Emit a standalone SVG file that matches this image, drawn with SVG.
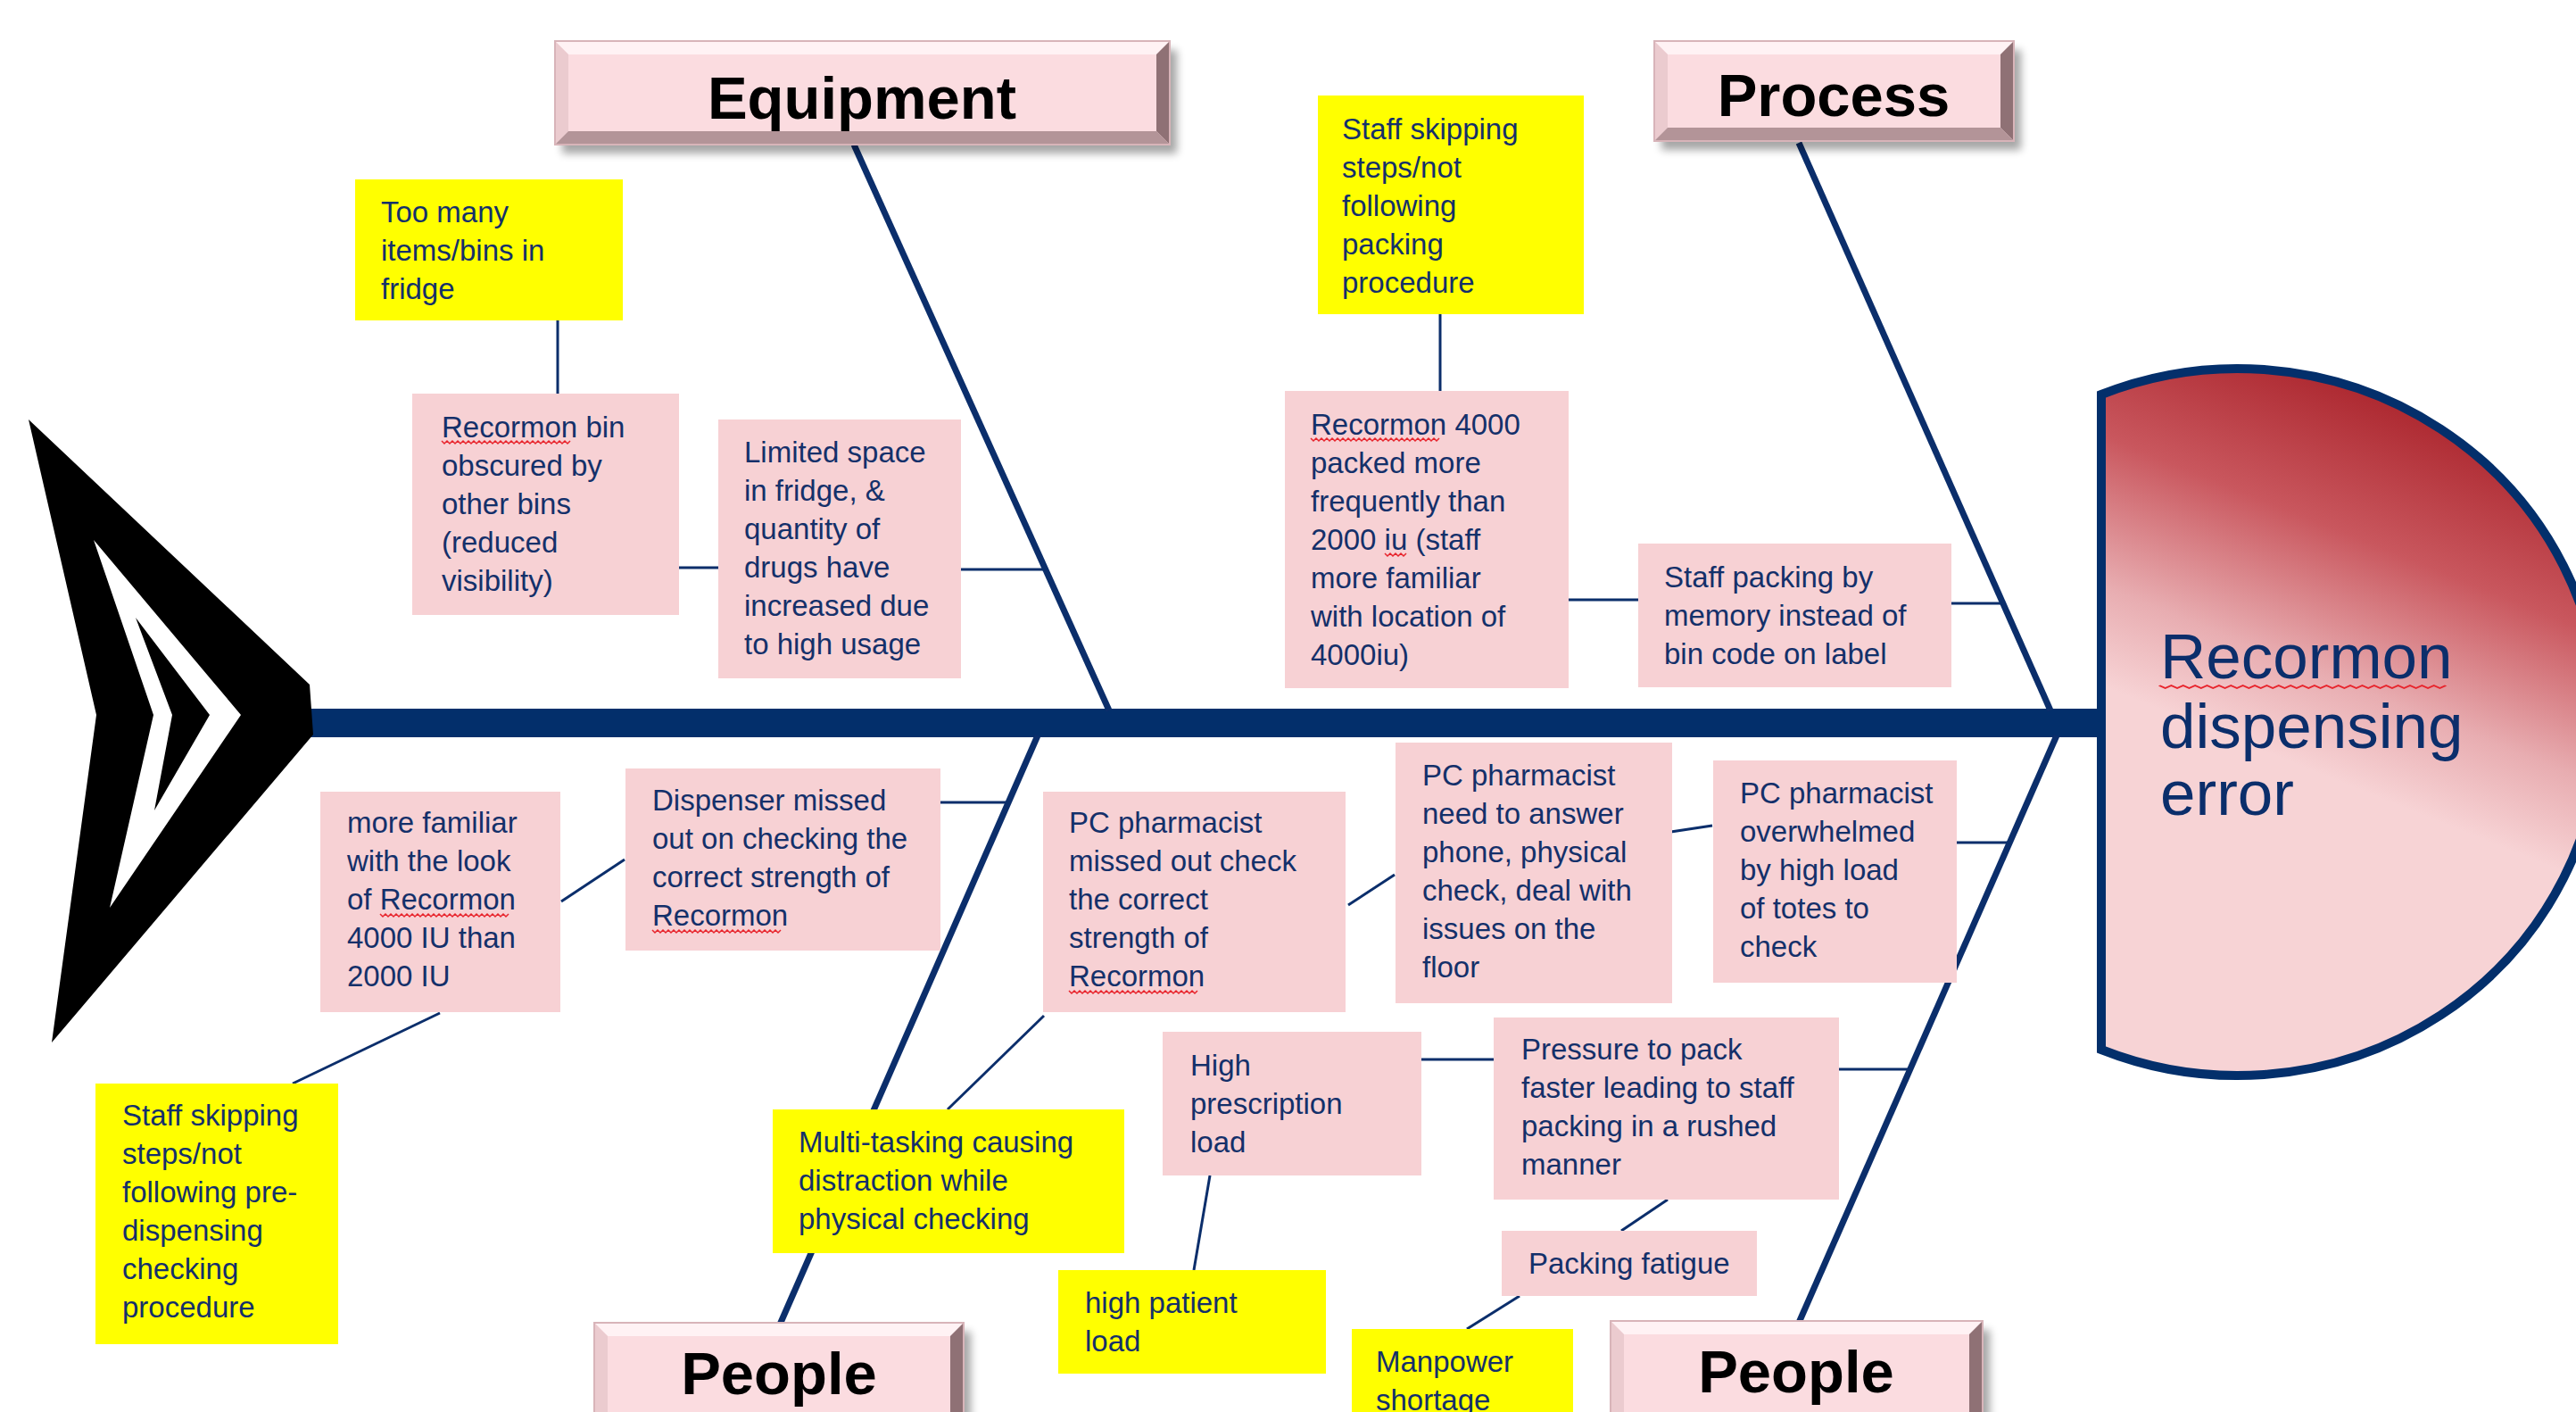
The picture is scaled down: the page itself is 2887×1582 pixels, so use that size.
<svg xmlns="http://www.w3.org/2000/svg" xmlns:xlink="http://www.w3.org/1999/xlink" width="2887" height="1582" viewBox="0 0 2887 1582">
<style>
.t{font-family:"Liberation Sans",Arial,sans-serif;font-size:33px;fill:#14306a}
.ttl{font-family:"Liberation Sans",Arial,sans-serif;font-weight:bold;font-size:67px;fill:#000;text-anchor:middle}
.head{font-family:"Liberation Sans",Arial,sans-serif;font-size:71px;fill:#0b2e6b}
.pk{fill:#f7d1d4}
.yl{fill:#ffff00}
.c{stroke:#0b2e6b;stroke-width:3;fill:none}
.bone{stroke:#0b2e6b;stroke-width:7;fill:none}
.sq{stroke:#e8242c;stroke-width:1.5;fill:none}
.bx{fill:#fbdce0;stroke:#d8b4b9;stroke-width:2}
.bt{fill:#fff2f4}
.bl{fill:#ebcbcf}
.br{fill:#8f7175}
.bb{fill:#b39498}
.shd{fill:#000;opacity:.35}
</style>
<defs>
<filter id="blur" x="-10%" y="-20%" width="130%" height="160%"><feGaussianBlur stdDeviation="5"/></filter>
<linearGradient id="hg" gradientUnits="userSpaceOnUse" x1="2760" y1="420" x2="2583" y2="860">
<stop offset="0" stop-color="#a31820"/>
<stop offset="0.45" stop-color="#c9575e"/>
<stop offset="0.78" stop-color="#e8adb1"/>
<stop offset="1" stop-color="#f7d3d5"/>
</linearGradient>
<path id="sq" d="M0 0 l3 3 3 -3 3 3 3 -3 3 3 3 -3 3 3 3 -3 3 3 3 -3 3 3 3 -3 3 3 3 -3 3 3 3 -3 3 3 3 -3 3 3 3 -3 3 3 3 -3 3 3 3 -3 3 3 3 -3 3 3 3 -3 3 3 3 -3 3 3 3 -3 3 3 3 -3 3 3 3 -3 3 3 3 -3 3 3 3 -3 3 3 3 -3 3 3 3 -3 3 3 3 -3 3 3 3 -3"/>
</defs>
<rect width="2887" height="1582" fill="#ffffff"/>

<g id="spine">
<rect x="340" y="794" width="2020" height="32" fill="#032f6b"/>
</g>

<g id="connectors">
<line class="bone" x1="957" y1="162" x2="1243" y2="796"/>
<line class="bone" x1="2016" y1="160" x2="2298" y2="796"/>
<line class="bone" x1="1163" y1="824" x2="874" y2="1484"/>
<line class="bone" x1="2305" y1="824" x2="2016" y2="1482"/>
<line class="c" x1="625" y1="359" x2="625" y2="441"/>
<line class="c" x1="761" y1="636" x2="805" y2="636"/>
<line class="c" x1="1077" y1="638" x2="1172" y2="638"/>
<line class="c" x1="1614" y1="352" x2="1614" y2="438"/>
<line class="c" x1="1758" y1="672" x2="1836" y2="672"/>
<line class="c" x1="2187" y1="676" x2="2245" y2="676"/>
<line class="c" x1="629" y1="1010" x2="700" y2="963"/>
<line class="c" x1="1054" y1="899" x2="1132" y2="899"/>
<line class="c" x1="493" y1="1135" x2="328" y2="1214"/>
<line class="c" x1="1170" y1="1138" x2="1062" y2="1243"/>
<line class="c" x1="1511" y1="1014" x2="1563" y2="980"/>
<line class="c" x1="1866" y1="933" x2="1919" y2="925"/>
<line class="c" x1="2193" y1="944" x2="2255" y2="944"/>
<line class="c" x1="1593" y1="1187" x2="1674" y2="1187"/>
<line class="c" x1="2061" y1="1198" x2="2141" y2="1198"/>
<line class="c" x1="1356" y1="1317" x2="1338" y2="1423"/>
<line class="c" x1="1869" y1="1344" x2="1817" y2="1379"/>
<line class="c" x1="1703" y1="1452" x2="1644" y2="1489"/>
</g>

<g id="tail">
<path d="M32 470 L347 767 L351 823 L58 1168 L108 801 Z" fill="#000"/>
<path d="M105 605 L270 801 L123 1017 L172 801 Z" fill="#fff"/>
<path d="M152 692 L235 801 L173 908 L193 801 Z" fill="#000"/>
</g>

<g id="head">
<path d="M2355 442 A407 396 0 1 1 2355 1176 Z" fill="url(#hg)" stroke="#032f6b" stroke-width="10"/>
<text class="head" x="2421" y="760">Recormon</text>
<text class="head" x="2421" y="838">dispensing</text>
<text class="head" x="2421" y="913">error</text>
<use href="#sq" class="sq" transform="translate(2420,768) scale(2.23,1)" style="vector-effect:non-scaling-stroke"/>
</g>

<g id="equipment">
<rect class="shd" x="630" y="56" width="689" height="116" filter="url(#blur)"/>
<rect class="bx" x="622" y="46" width="689" height="116"/>
<polygon class="bt" points="623,47 1310,47 1296,61 637,61"/>
<polygon class="bl" points="623,47 637,61 637,147 623,161"/>
<polygon class="br" points="1310,47 1310,161 1296,147 1296,61"/>
<polygon class="bb" points="623,161 637,147 1296,147 1310,161"/>
<text class="ttl" x="966" y="133">Equipment</text>
</g>

<g id="process">
<rect class="shd" x="1862" y="56" width="403" height="112" filter="url(#blur)"/>
<rect class="bx" x="1854" y="46" width="403" height="112"/>
<polygon class="bt" points="1855,47 2256,47 2242,61 1869,61"/>
<polygon class="bl" points="1855,47 1869,61 1869,143 1855,157"/>
<polygon class="br" points="2256,47 2256,157 2242,143 2242,61"/>
<polygon class="bb" points="1855,157 1869,143 2242,143 2256,157"/>
<text class="ttl" x="2055" y="130">Process</text>
</g>

<g id="people-left">
<rect class="shd" x="674" y="1492" width="414" height="130" filter="url(#blur)"/>
<rect class="bx" x="666" y="1482" width="414" height="130"/>
<polygon class="bt" points="667,1483 1079,1483 1065,1497 681,1497"/>
<polygon class="bl" points="667,1483 681,1497 681,1597 667,1611"/>
<polygon class="br" points="1079,1483 1079,1611 1065,1597 1065,1497"/>
<text class="ttl" x="873" y="1562">People</text>
</g>

<g id="people-right">
<rect class="shd" x="1813" y="1490" width="417" height="130" filter="url(#blur)"/>
<rect class="bx" x="1805" y="1480" width="417" height="130"/>
<polygon class="bt" points="1806,1481 2221,1481 2207,1495 1820,1495"/>
<polygon class="bl" points="1806,1481 1820,1495 1820,1595 1806,1609"/>
<polygon class="br" points="2221,1481 2221,1609 2207,1595 2207,1495"/>
<text class="ttl" x="2013" y="1560">People</text>
</g>

<g id="n-too-many">
<rect class="yl" x="398" y="201" width="300" height="158"/>
<text class="t"><tspan x="427" y="249">Too many</tspan><tspan x="427" y="292">items/bins in</tspan><tspan x="427" y="335">fridge</tspan></text>
</g>

<g id="n-bin-obscured">
<rect class="pk" x="462" y="441" width="299" height="248"/>
<text class="t"><tspan x="495" y="490">Recormon bin</tspan><tspan x="495" y="533">obscured by</tspan><tspan x="495" y="576">other bins</tspan><tspan x="495" y="619">(reduced</tspan><tspan x="495" y="662">visibility)</tspan></text>
<use href="#sq" class="sq" x="495" y="494"/>
</g>

<g id="n-limited-space">
<rect class="pk" x="805" y="470" width="272" height="290"/>
<text class="t"><tspan x="834" y="518">Limited space</tspan><tspan x="834" y="561">in fridge, &amp;</tspan><tspan x="834" y="604">quantity of</tspan><tspan x="834" y="647">drugs have</tspan><tspan x="834" y="690">increased due</tspan><tspan x="834" y="733">to high usage</tspan></text>
</g>

<g id="n-skip-packing">
<rect class="yl" x="1477" y="107" width="298" height="245"/>
<text class="t"><tspan x="1504" y="156">Staff skipping</tspan><tspan x="1504" y="199">steps/not</tspan><tspan x="1504" y="242">following</tspan><tspan x="1504" y="285">packing</tspan><tspan x="1504" y="328">procedure</tspan></text>
</g>

<g id="n-4000-packed">
<rect class="pk" x="1440" y="438" width="318" height="333"/>
<text class="t"><tspan x="1469" y="487">Recormon 4000</tspan><tspan x="1469" y="530">packed more</tspan><tspan x="1469" y="573">frequently than</tspan><tspan x="1469" y="616">2000 iu (staff</tspan><tspan x="1469" y="659">more familiar</tspan><tspan x="1469" y="702">with location of</tspan><tspan x="1469" y="745">4000iu)</tspan></text>
<use href="#sq" class="sq" x="1469" y="491"/>
<path class="sq" d="M1552 620 l3 3 3 -3 3 3 3 -3 3 3 3 -3 3 3 3 -3"/>
</g>

<g id="n-memory">
<rect class="pk" x="1836" y="609" width="351" height="161"/>
<text class="t"><tspan x="1865" y="658">Staff packing by</tspan><tspan x="1865" y="701">memory instead of</tspan><tspan x="1865" y="744">bin code on label</tspan></text>
</g>

<g id="n-more-familiar">
<rect class="pk" x="359" y="887" width="269" height="247"/>
<text class="t"><tspan x="389" y="933">more familiar</tspan><tspan x="389" y="976">with the look</tspan><tspan x="389" y="1019">of Recormon</tspan><tspan x="389" y="1062">4000 IU than</tspan><tspan x="389" y="1105">2000 IU</tspan></text>
<use href="#sq" class="sq" x="426" y="1024"/>
</g>

<g id="n-dispenser">
<rect class="pk" x="701" y="861" width="353" height="204"/>
<text class="t"><tspan x="731" y="908">Dispenser missed</tspan><tspan x="731" y="951">out on checking the</tspan><tspan x="731" y="994">correct strength of</tspan><tspan x="731" y="1037">Recormon</tspan></text>
<use href="#sq" class="sq" x="731" y="1042"/>
</g>

<g id="n-pc-missed">
<rect class="pk" x="1169" y="887" width="339" height="247"/>
<text class="t"><tspan x="1198" y="933">PC pharmacist</tspan><tspan x="1198" y="976">missed out check</tspan><tspan x="1198" y="1019">the correct</tspan><tspan x="1198" y="1062">strength of</tspan><tspan x="1198" y="1105">Recormon</tspan></text>
<use href="#sq" class="sq" x="1198" y="1110"/>
</g>

<g id="n-skip-predispensing">
<rect class="yl" x="107" y="1214" width="272" height="292"/>
<text class="t"><tspan x="137" y="1261">Staff skipping</tspan><tspan x="137" y="1304">steps/not</tspan><tspan x="137" y="1347">following pre-</tspan><tspan x="137" y="1390">dispensing</tspan><tspan x="137" y="1433">checking</tspan><tspan x="137" y="1476">procedure</tspan></text>
</g>

<g id="n-multitasking">
<rect class="yl" x="866" y="1243" width="394" height="161"/>
<text class="t"><tspan x="895" y="1291">Multi-tasking causing</tspan><tspan x="895" y="1334">distraction while</tspan><tspan x="895" y="1377">physical checking</tspan></text>
</g>

<g id="n-high-prescription">
<rect class="pk" x="1303" y="1156" width="290" height="161"/>
<text class="t"><tspan x="1334" y="1205">High</tspan><tspan x="1334" y="1248">prescription</tspan><tspan x="1334" y="1291">load</tspan></text>
</g>

<g id="n-high-patient">
<rect class="yl" x="1186" y="1423" width="300" height="116"/>
<text class="t"><tspan x="1216" y="1471">high patient</tspan><tspan x="1216" y="1514">load</tspan></text>
</g>

<g id="n-pc-answer">
<rect class="pk" x="1564" y="832" width="310" height="292"/>
<text class="t"><tspan x="1594" y="880">PC pharmacist</tspan><tspan x="1594" y="923">need to answer</tspan><tspan x="1594" y="966">phone, physical</tspan><tspan x="1594" y="1009">check, deal with</tspan><tspan x="1594" y="1052">issues on the</tspan><tspan x="1594" y="1095">floor</tspan></text>
</g>

<g id="n-pc-overwhelmed">
<rect class="pk" x="1920" y="852" width="273" height="249"/>
<text class="t"><tspan x="1950" y="900">PC pharmacist</tspan><tspan x="1950" y="943">overwhelmed</tspan><tspan x="1950" y="986">by high load</tspan><tspan x="1950" y="1029">of totes to</tspan><tspan x="1950" y="1072">check</tspan></text>
</g>

<g id="n-pressure">
<rect class="pk" x="1674" y="1140" width="387" height="204"/>
<text class="t"><tspan x="1705" y="1187">Pressure to pack</tspan><tspan x="1705" y="1230">faster leading to staff</tspan><tspan x="1705" y="1273">packing in a rushed</tspan><tspan x="1705" y="1316">manner</tspan></text>
</g>

<g id="n-fatigue">
<rect class="pk" x="1683" y="1379" width="286" height="73"/>
<text class="t" x="1713" y="1427">Packing fatigue</text>
</g>

<g id="n-manpower">
<rect class="yl" x="1515" y="1489" width="248" height="100"/>
<text class="t"><tspan x="1542" y="1537">Manpower</tspan><tspan x="1542" y="1580">shortage</tspan></text>
</g>
</svg>
